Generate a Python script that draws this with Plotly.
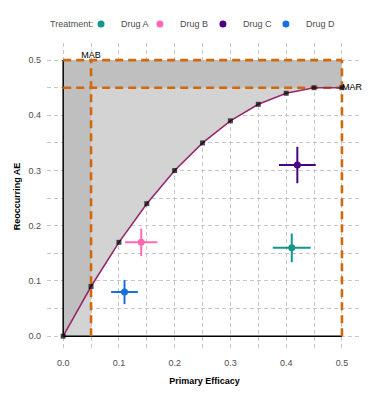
import plotly.graph_objects as go

# ---- data ----
curve_x = [0.0, 0.05, 0.10, 0.15, 0.20, 0.25, 0.30, 0.35, 0.40, 0.45, 0.50]
curve_y = [0.0, 0.09, 0.17, 0.24, 0.30, 0.35, 0.39, 0.42, 0.44, 0.45, 0.45]

drugs = ["Drug A", "Drug B", "Drug C", "Drug D"]
drug_colors = ["#13968C", "#FF69B4", "#4B0082", "#1A6FDB"]
efficacy = [0.41, 0.14, 0.42, 0.11]
efficacy_err = [0.034, 0.029, 0.033, 0.024]
reoccur_ae = [0.16, 0.17, 0.31, 0.08]
reoccur_ae_err = [0.026, 0.025, 0.033, 0.022]

mab = 0.05   # minimum acceptable benefit
mar = 0.45   # maximum acceptable risk
x_max = 0.5
y_max = 0.5

x_ticks = [0.0, 0.1, 0.2, 0.3, 0.4, 0.5]
y_ticks = [0.0, 0.1, 0.2, 0.3, 0.4, 0.5]

LIGHT = "#D3D3D3"
DARK = "#BFBFBF"
ORANGE = "#D2680C"
CURVE = "#96296F"
FONT = "Liberation Sans, Arial, sans-serif"

fig = go.Figure()

def poly(xs, ys, color):
    fig.add_trace(go.Scatter(x=xs, y=ys, fill="toself", fillcolor=color, mode="lines",
                             line=dict(width=0), hoverinfo="skip", showlegend=False))

# light rectangle left of MAB
poly([0, mab, mab, 0, 0], [0, 0, y_max, y_max, 0], LIGHT)
# light region above curve
poly(curve_x + [x_max, 0], curve_y + [y_max, y_max], LIGHT)
# dark region: above curve and left of MAB
idx = curve_x.index(mab)
poly(curve_x[:idx + 1] + [mab, 0], curve_y[:idx + 1] + [y_max, y_max], DARK)
# dark strip above MAR
poly([0, x_max, x_max, 0, 0], [mar, mar, y_max, y_max, mar], DARK)

# axis segments
fig.add_trace(go.Scatter(x=[0, 0], y=[0, y_max], mode="lines", line=dict(color="black", width=1.5),
                         hoverinfo="skip", showlegend=False))
fig.add_trace(go.Scatter(x=[0, x_max], y=[0, 0], mode="lines", line=dict(color="black", width=1.5),
                         hoverinfo="skip", showlegend=False))

# orange dashed threshold lines
dash = "8px,5px"
for xs, ys in [([0, x_max], [y_max, y_max]), ([0, x_max], [mar, mar]),
               ([mab, mab], [0, y_max]), ([x_max, x_max], [0, y_max])]:
    fig.add_trace(go.Scatter(x=xs, y=ys, mode="lines", line=dict(color=ORANGE, width=2.6, dash=dash),
                             hoverinfo="skip", showlegend=False))

# curve
fig.add_trace(go.Scatter(x=curve_x, y=curve_y, mode="lines", line=dict(color=CURVE, width=1.6),
                         hoverinfo="skip", showlegend=False))
fig.add_trace(go.Scatter(x=curve_x, y=curve_y, mode="markers",
                         marker=dict(symbol="square", size=5, color="black", opacity=0.7),
                         hoverinfo="skip", showlegend=False))

# labels
fig.add_trace(go.Scatter(x=[mab], y=[y_max], mode="text", text=["MAB"], textposition="top center",
                         textfont=dict(size=9, color="black", family=FONT), showlegend=False))
fig.add_trace(go.Scatter(x=[x_max], y=[mar], mode="text", text=["MAR"], textposition="middle right",
                         textfont=dict(size=9, color="black", family=FONT), showlegend=False))

# drugs, each in its own legend so the entries can be spaced like the reference
legend_ids = ["legend", "legend2", "legend3", "legend4"]
for name, c, ex, exe, ay, aye, lg in zip(drugs, drug_colors, efficacy, efficacy_err,
                                         reoccur_ae, reoccur_ae_err, legend_ids):
    fig.add_trace(go.Scatter(
        x=[ex], y=[ay], mode="markers", name=name, legend=lg,
        marker=dict(color=c, size=7),
        error_x=dict(type="constant", value=exe, color=c, thickness=2, width=0),
        error_y=dict(type="constant", value=aye, color=c, thickness=2, width=0),
    ))

grid = dict(showgrid=True, gridcolor="#C8C8C8", griddash="4px,3px", gridwidth=1,
            zeroline=False, showline=False, ticks="",
            tickfont=dict(size=9, color="#4D4D4D", family=FONT),
            tickformat=".1f",
            minor=dict(dtick=0.05, showgrid=True, gridcolor="#C8C8C8", griddash="4px,3px", gridwidth=1))

fig.update_xaxes(range=[-0.029, 0.536], tickvals=x_ticks, ticklabelstandoff=6,
                 title=dict(text="<b>Primary Efficacy</b>", font=dict(size=9, color="black", family=FONT),
                            standoff=10), **grid)
fig.update_yaxes(range=[-0.025, 0.531], tickvals=y_ticks, ticklabelstandoff=5,
                 title=dict(text="<b>Reoccurring AE</b>", font=dict(size=9, color="black", family=FONT),
                            standoff=6), **grid)

LEG_Y = 1.062
fig.add_annotation(text="Treatment:", xref="paper", yref="paper", x=0.003, y=LEG_Y,
                   xanchor="left", yanchor="middle", showarrow=False,
                   font=dict(size=9, color="#4D4D4D", family=FONT))

leg_x = [0.108, 0.295, 0.495, 0.695]
leg_common = dict(orientation="h", xanchor="left", y=LEG_Y, yanchor="middle",
                  font=dict(size=9, color="#4D4D4D", family=FONT), itemwidth=30,
                  bgcolor="rgba(0,0,0,0)")

fig.update_layout(
    width=372, height=394,
    margin=dict(l=39, r=18, t=35, b=52, autoexpand=False),
    plot_bgcolor="white", paper_bgcolor="white",
    font=dict(family=FONT, size=9, color="#4D4D4D"),
    legend=dict(x=leg_x[0], **leg_common),
    legend2=dict(x=leg_x[1], **leg_common),
    legend3=dict(x=leg_x[2], **leg_common),
    legend4=dict(x=leg_x[3], **leg_common),
)

fig.write_html("out.html")
